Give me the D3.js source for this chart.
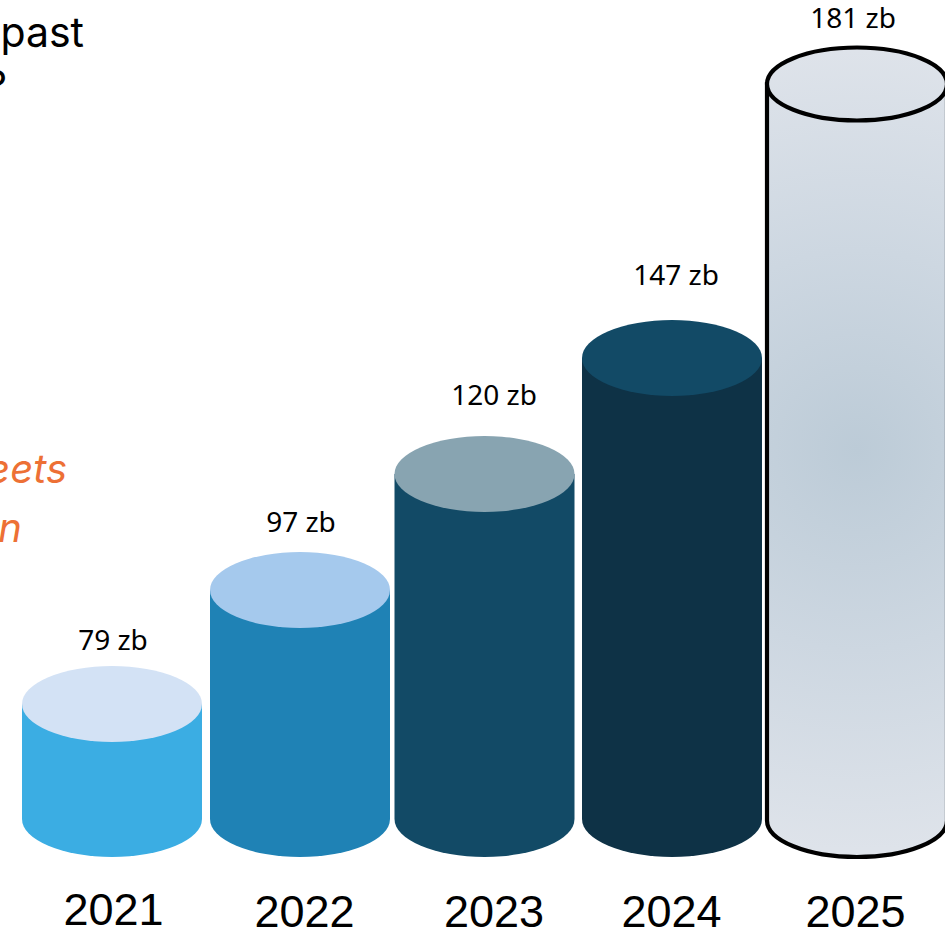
<!DOCTYPE html>
<html>
<head>
<meta charset="utf-8">
<script src="https://cdn.jsdelivr.net/npm/d3@7"></script>
<style>
  html, body { margin: 0; padding: 0; background: #fff; overflow: hidden; }
  svg { display: block; }
</style>
</head>
<body>
<svg id="chart"></svg>
<script>
// Chart data
const years = ["2021", "2022", "2023", "2024", "2025"];
const volumes = [79, 97, 120, 147, 181];
const unit = "zb";

// Colours per cylinder
const bodyColors = ["#3badE3", "#1f82b5", "#124a66", "#0e3246", "url(#glass)"];
const capColors = ["#d3e2f5", "#a5c9ed", "#88a4b1", "#124a66", "url(#glass)"];

const width = 945;
const height = 932;
const rx = 90;       // cylinder half width
const bottom = 857;  // lowest point of each cylinder

const svg = d3.select("#chart")
    .attr("width", width)
    .attr("height", height)
    .attr("viewBox", `0 0 ${width} ${height}`);

// Cylinders are not drawn to scale in the original, so y is piecewise
const x = d3.scaleOrdinal().domain(years).range([112, 300, 484.5, 672, 857]);
const y = d3.scaleLinear().domain(volumes).range([704, 590, 474, 358, 84]);

// Glass fill for the last cylinder
const glass = svg.append("defs").append("radialGradient")
    .attr("id", "glass")
    .attr("gradientUnits", "userSpaceOnUse")
    .attr("cx", 857)
    .attr("cy", 450)
    .attr("r", 400);
glass.append("stop").attr("offset", "0%").attr("stop-color", "#bccbd7");
glass.append("stop").attr("offset", "50%").attr("stop-color", "#cdd7e1");
glass.append("stop").attr("offset", "100%").attr("stop-color", "#dee3ea");

const bars = svg.selectAll("g.cylinder")
    .data(years.map((year, i) => ({ year, value: volumes[i], i })))
    .enter()
    .append("g")
    .attr("class", "cylinder");

const isGlass = d => d.year === "2025";
const ryOf = d => isGlass(d) ? 36.5 : 38;

// Body with rounded bottom
bars.append("path")
    .attr("d", d => {
        const cx = x(d.year);
        const r = ryOf(d);
        return `M${cx - rx},${y(d.value)} V${bottom - r} A${rx},${r} 0 0 0 ${cx + rx},${bottom - r} V${y(d.value)} Z`;
    })
    .attr("fill", d => bodyColors[d.i])
    .attr("stroke", d => isGlass(d) ? "#000" : "none")
    .attr("stroke-width", 4.2);

// Top ellipse
bars.append("ellipse")
    .attr("cx", d => x(d.year))
    .attr("cy", d => y(d.value))
    .attr("rx", rx)
    .attr("ry", ryOf)
    .attr("fill", d => capColors[d.i])
    .attr("stroke", d => isGlass(d) ? "#000" : "none")
    .attr("stroke-width", 4.2);

// Value labels, hand placed in the original so each has its own nudge
const labelDx = [1, 1, 9.5, 4, -4];
const labelGap = [54, 58, 69, 73, 56];
bars.append("text")
    .attr("x", d => x(d.year) + labelDx[d.i])
    .attr("y", d => y(d.value) - labelGap[d.i])
    .attr("text-anchor", "middle")
    .attr("font-family", "'Noto Sans', sans-serif")
    .attr("font-size", 28)
    .attr("fill", "#000")
    .text(d => `${d.value} ${unit}`);

// Year labels
const yearDx = [1.5, 4.5, 9.5, -0.5, -1.5];
const yearY = [925, 927, 927, 927, 927];
bars.append("text")
    .attr("x", d => x(d.year) + yearDx[d.i])
    .attr("y", d => yearY[d.i])
    .attr("text-anchor", "middle")
    .attr("font-family", "'Liberation Sans', Arial, sans-serif")
    .attr("font-size", 45)
    .attr("fill", "#000")
    .text(d => d.year);

// Slide text that runs off the left edge
svg.append("text")
    .attr("x", 84).attr("y", 47)
    .attr("text-anchor", "end")
    .attr("font-family", "Inter, sans-serif")
    .attr("font-size", 41)
    .attr("fill", "#000")
    .text("past");
svg.append("text")
    .attr("x", 7).attr("y", 100)
    .attr("text-anchor", "end")
    .attr("font-family", "Inter, sans-serif")
    .attr("font-size", 41)
    .attr("fill", "#000")
    .text("?");

svg.append("text")
    .attr("x", 67).attr("y", 483)
    .attr("text-anchor", "end")
    .attr("font-family", "Inter, sans-serif")
    .attr("font-style", "italic")
    .attr("font-size", 40)
    .attr("fill", "#ed7035")
    .text("eets");
svg.append("text")
    .attr("x", 22).attr("y", 542)
    .attr("text-anchor", "end")
    .attr("font-family", "Inter, sans-serif")
    .attr("font-style", "italic")
    .attr("font-size", 40)
    .attr("fill", "#ed7035")
    .text("n");
</script>
</body>
</html>
